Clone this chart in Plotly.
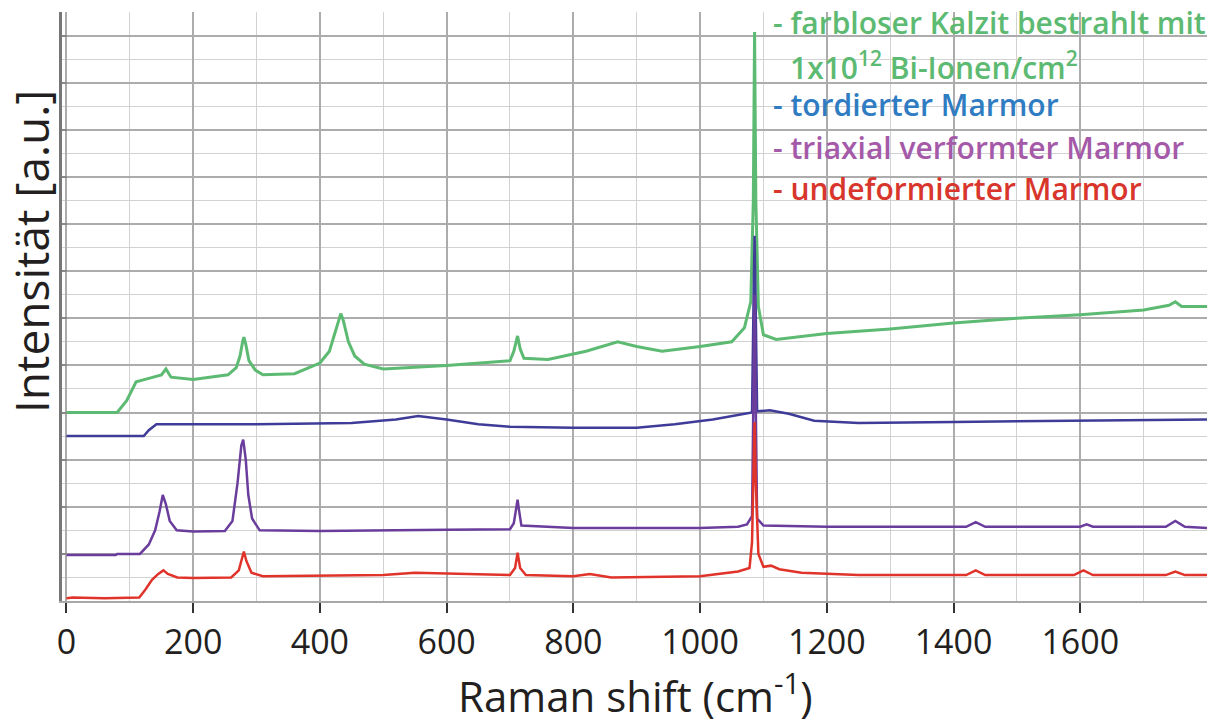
import plotly.graph_objects as go

# ---------------- data ----------------
green_x = [0, 80, 95, 110, 130, 150, 157, 165, 200, 255, 268, 274, 278, 280, 283, 288, 298, 310,
           360, 400, 415, 423, 430, 433, 437, 445, 455, 470, 500, 600, 700, 706, 712, 716, 722,
           760, 820, 870, 900, 940, 1000, 1050, 1070, 1080, 1084, 1086, 1088, 1092, 1100, 1120,
           1200, 1300, 1400, 1500, 1600, 1700, 1740, 1750, 1760, 1800]
green_y = [8.0, 8.0, 8.5, 9.3, 9.45, 9.6, 9.85, 9.5, 9.4, 9.6, 9.9, 10.4, 11.0, 11.2, 10.9, 10.2, 9.8, 9.6,
           9.65, 10.1, 10.6, 11.3, 12.0, 12.2, 11.9, 11.0, 10.4, 10.05, 9.85, 10.0, 10.2, 10.6, 11.25, 10.7, 10.3,
           10.25, 10.6, 11.0, 10.8, 10.6, 10.8, 11.0, 11.6, 12.7, 17.0, 24.15, 17.0, 12.5, 11.3, 11.1,
           11.35, 11.55, 11.8, 12.0, 12.15, 12.35, 12.55, 12.7, 12.5, 12.5]

indigo_x = [0, 122, 130, 142, 300, 450, 520, 555, 600, 650, 700, 800, 900, 960, 1020, 1070,
            1082, 1084, 1086, 1088, 1090, 1110, 1140, 1180, 1250, 1400, 1600, 1800]
indigo_y = [7.0, 7.0, 7.25, 7.5, 7.5, 7.55, 7.7, 7.85, 7.7, 7.5, 7.4, 7.35, 7.35, 7.5, 7.7, 7.95,
            8.0, 12.0, 15.5, 12.0, 8.05, 8.1, 7.95, 7.65, 7.55, 7.6, 7.65, 7.7]

purple_x = [0, 78, 80, 116, 130, 140, 147, 152, 157, 163,
            174, 200, 250, 262, 270, 276, 279, 283, 287, 293,
            305, 400, 600, 700, 706, 710, 712, 714, 718, 800,
            1000, 1060, 1074, 1082, 1084, 1086, 1088, 1090, 1100, 1200,
            1420, 1435, 1450, 1600, 1610, 1620, 1735, 1750, 1765, 1800]
purple_y = [1.95, 1.95, 2.0, 2.0, 2.4, 3.0, 3.8, 4.5, 4.1, 3.4,
            3.0, 2.95, 2.97, 3.4, 5.0, 6.6, 6.85, 6.0, 4.5, 3.5,
            3.0, 2.97, 3.02, 3.05, 3.3, 4.0, 4.3, 3.9, 3.2, 3.1,
            3.1, 3.15, 3.25, 3.6, 8.0, 13.0, 8.0, 3.5, 3.2, 3.15,
            3.15, 3.35, 3.15, 3.15, 3.25, 3.15, 3.15, 3.4, 3.15, 3.1]

red_x = [0, 10, 60, 115, 125, 135, 145, 153, 160, 175,
         200, 260, 272, 277, 280, 284, 292, 310, 500, 550,
         640, 700, 708, 712, 716, 725, 800, 826, 860, 1000,
         1060, 1078, 1082, 1084, 1086, 1088, 1092, 1100, 1112, 1125,
         1160, 1250, 1420, 1435, 1450, 1590, 1605, 1620, 1735, 1750,
         1765, 1800]
red_y = [0.12, 0.15, 0.12, 0.15, 0.5, 0.9, 1.15, 1.3, 1.15, 1.0,
         0.98, 1.0, 1.3, 1.8, 2.1, 1.7, 1.2, 1.05, 1.1, 1.2,
         1.15, 1.1, 1.4, 2.05, 1.4, 1.1, 1.05, 1.15, 1.0, 1.05,
         1.25, 1.4, 2.5, 5.5, 7.6, 5.0, 2.0, 1.45, 1.5, 1.35,
         1.2, 1.1, 1.1, 1.3, 1.1, 1.1, 1.3, 1.1, 1.1, 1.25,
         1.1, 1.1]

x_tick_vals = [0, 200, 400, 600, 800, 1000, 1200, 1400, 1600]
x_tick_text = ["0", "200", "400", "600", "800", "1000", "1200", "1400", "1600"]

legend_lines = [
    "- farbloser Kalzit bestrahlt mit",
    "1x10<sup>12</sup> Bi-Ionen/cm<sup>2</sup>",
    "- tordierter Marmor",
    "- triaxial verformter Marmor",
    "- undeformierter Marmor",
]

# ---------------- style ----------------
FONT = "Open Sans"
line_colors = ["#5dba72", "#3e3c98", "#6a3d9c", "#e0332a"]
text_colors = ["#5dba72", "#5dba72", "#2f7cc2", "#a45aa8", "#d8362c"]

W, H = 1218, 724
L, R, T, B = 62, 11, 12, 123
pw, ph = W - L - R, H - T - B

def px_x(p):
    return (p - L) / pw

def px_y(p):
    return (H - B - p) / ph

fig = go.Figure()
for xs, ys, c, w in [(green_x, green_y, line_colors[0], 3.0),
                     (indigo_x, indigo_y, line_colors[1], 2.5),
                     (purple_x, purple_y, line_colors[2], 2.5),
                     (red_x, red_y, line_colors[3], 2.5)]:
    fig.add_trace(go.Scatter(x=xs, y=ys, mode="lines",
                             line=dict(color=c, width=w), showlegend=False,
                             hoverinfo="skip"))

legend_pos = [(771, 22), (788, 66), (771, 104), (771, 147), (771, 189)]
for txt, (lx, ly), col in zip(legend_lines, legend_pos, text_colors):
    fig.add_annotation(text=txt, xref="paper", yref="paper",
                       x=px_x(lx), y=px_y(ly), xanchor="left", yanchor="middle",
                       showarrow=False,
                       font=dict(family=FONT, size=30, color=col, weight=600))

# axis titles
fig.add_annotation(text="Intensität [a.u.]", xref="paper", yref="paper",
                   x=px_x(31), y=px_y(252), textangle=-90,
                   xanchor="center", yanchor="middle", showarrow=False,
                   font=dict(family=FONT, size=46, color="#231f20"))
fig.add_annotation(text="Raman shift (cm<sup>-1</sup>)", xref="paper", yref="paper",
                   x=px_x(635), y=px_y(693), xanchor="center", yanchor="middle",
                   showarrow=False, font=dict(family=FONT, size=42, color="#231f20"))

fig.update_layout(
    width=W, height=H,
    margin=dict(l=L, r=R, t=T, b=B),
    paper_bgcolor="white", plot_bgcolor="white",
    xaxis=dict(range=[-7, 1800], tickvals=x_tick_vals, ticktext=x_tick_text,
               ticks="outside", ticklen=10, tickwidth=2, tickcolor="#333333",
               tickfont=dict(family=FONT, size=34, color="#231f20"),
               showgrid=True, gridcolor="#acacac", gridwidth=1.5,
               minor=dict(dtick=100, tick0=0, showgrid=True, gridcolor="#d2d2d2", gridwidth=1.3),
               showline=True, linecolor="#a8a8a8", linewidth=2,
               zeroline=False, fixedrange=True),
    yaxis=dict(range=[0, 25], dtick=2, tick0=0, showticklabels=False,
               ticks="inside", ticklen=5, tickcolor="#888888", tickwidth=1.5,
               showgrid=True, gridcolor="#acacac", gridwidth=1.5,
               minor=dict(dtick=1, tick0=0, showgrid=True, gridcolor="#d2d2d2", gridwidth=1.3),
               showline=True, linecolor="#777777", linewidth=3,
               zeroline=False, fixedrange=True),
)

fig.write_html("out.html", config={"displayModeBar": False},
               post_script="document.body.style.margin='0px';")
